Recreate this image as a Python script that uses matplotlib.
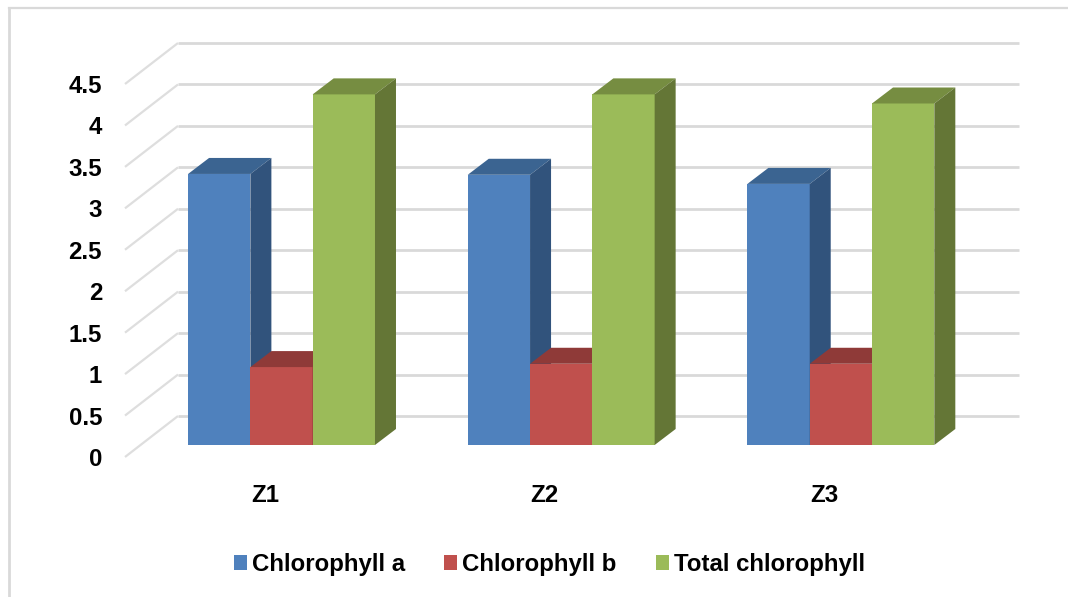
#!/usr/bin/env python3
"""Chlorophyll content per zone, clustered bars with an Excel style 3D look."""
import matplotlib; matplotlib.use("Agg")
import matplotlib.pyplot as plt
from matplotlib.lines import Line2D
from matplotlib.patches import Polygon

zones=["Z1","Z2","Z3"]
series_names=["Chlorophyll a","Chlorophyll b","Total chlorophyll"]
chl_a=[3.27,3.26,3.15]
chl_b=[0.94,0.98,0.98]
chl_total=[4.23,4.23,4.12]
y_ticks=[0,0.5,1,1.5,2,2.5,3,3.5,4,4.5]
y_labels=["0","0.5","1","1.5","2","2.5","3","3.5","4","4.5"]

W,H=1068,597
GRID="#D9D9D9"
FRONT=["#4F81BD","#C0504D","#9BBB59"]; TOP=["#3B6491","#8F3A38","#768D41"]; SIDE=["#31537C","#7A3230","#647636"]
plt.rcParams.update({"font.family":["Liberation Sans","DejaVu Sans"],"font.weight":"bold","font.size":17.3})

fig=plt.figure(figsize=(W/100,H/100),dpi=100); fig.patch.set_facecolor("white")
# axes = front edge of the floor: 125..964 px across, value 0 at 457 px, 4.5 at 84 px
ax=fig.add_axes([125/W,1-457/H,(964-125)/W,(457-84)/H])
ax.set_xlim(-0.5,2.5); ax.set_ylim(0,4.5)
ux=(964-125)/3; uy=(457-84)/4.5
for s in ax.spines.values(): s.set_visible(False)
ax.patch.set_visible(False)

# outer frame, only top and left
fig.add_artist(Line2D([8.5/W,8.5/W],[0,1-8/H],color=GRID,lw=2))
fig.add_artist(Line2D([8.5/W,1],[1-8/H,1-8/H],color=GRID,lw=1.6))

# walls
wall_dx=53/ux; wall_dy=41/uy; wall_end=(1019-125)/ux-0.5
for v in y_ticks:
    ax.plot([-0.5,-0.5+wall_dx],[v,v+wall_dy],color="#DEDEDE",lw=1.6,clip_on=False,zorder=1,solid_capstyle="butt")
    ax.plot([-0.5+wall_dx,wall_end],[v+wall_dy,v+wall_dy],color=GRID,lw=2,clip_on=False,zorder=1,solid_capstyle="butt")

# bars sit a bit into the floor, with their own depth
base_x=16.7/ux; base_y=12/uy; bw=62.3/ux; dx=21/ux; dy=16/uy
handles=[]
for i,vals in enumerate([chl_a,chl_b,chl_total]):
    xs=[j+base_x+(i-1)*bw for j in range(len(zones))]
    b=ax.bar(xs,vals,bw,bottom=base_y,color=FRONT[i],label=series_names[i],clip_on=False,zorder=3+i,lw=0)
    handles.append(b)
    for x,v in zip(xs,vals):
        l,r,t=x-bw/2,x+bw/2,v+base_y
        ax.add_patch(Polygon([(l,t),(r,t),(r+dx,t+dy),(l+dx,t+dy)],fc=TOP[i],lw=0,clip_on=False,zorder=3+i))
        ax.add_patch(Polygon([(r,base_y),(r+dx,base_y+dy),(r+dx,t+dy),(r,t)],fc=SIDE[i],lw=0,clip_on=False,zorder=3+i))

ax.set_xticks(range(len(zones))); ax.set_xticklabels(zones)
ax.set_yticks(y_ticks); ax.set_yticklabels(y_labels)
ax.tick_params(axis="y",length=0,pad=16.5,colors="black")
ax.tick_params(axis="x",length=0,pad=19.5,colors="black")

ax.legend(handles=handles,loc="center",bbox_to_anchor=(549.5/W,1-564.5/H),bbox_transform=fig.transFigure,
          ncol=3,frameon=False,borderpad=0,handlelength=0.54,handleheight=0.54,handletextpad=0.2,columnspacing=1.65,
          labelcolor="black")
fig.savefig("out.png",dpi=100,facecolor="white")
